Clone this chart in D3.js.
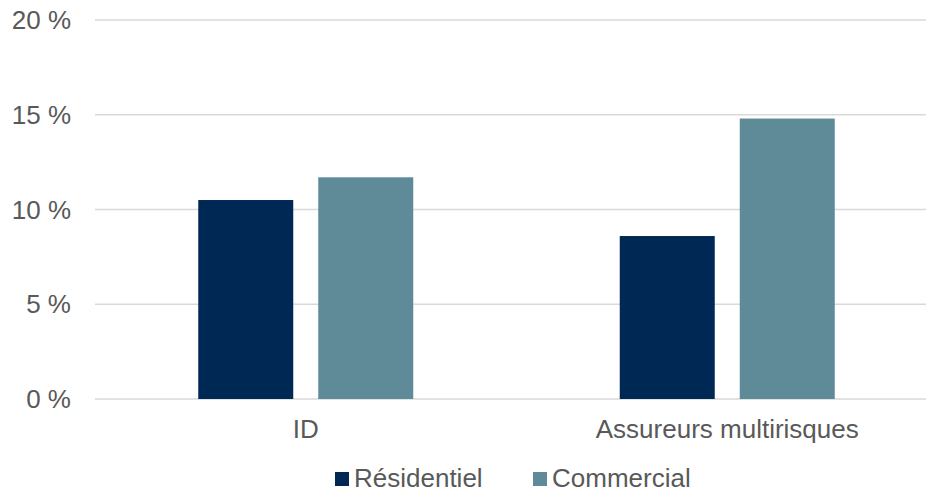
<!DOCTYPE html>
<html>
<head>
<meta charset="utf-8">
<script src="https://cdn.jsdelivr.net/npm/d3@7"></script>
<style>
  body { margin: 0; background: #fff; }
  text { font-family: "Liberation Sans", Arial, sans-serif; fill: #595959; }
</style>
</head>
<body>
<div id="chart"></div>
<script>
(function(){

    const width = 926, height = 492;

    // Data
    const categories = ["ID", "Assureurs multirisques"];
    const seriesNames = ["Résidentiel", "Commercial"];
    const residentiel = [10.5, 8.6];
    const commercial = [11.7, 14.8];
    const yTicks = [0, 5, 10, 15, 20];
    const colors = ["#002855", "#5F8A98"];

    const data = categories.map((c, i) => ({
        cat: c,
        values: [residentiel[i], commercial[i]]
    }));

    let svg = d3.select("#chart")
        .append("svg")
        .attr("width", width)
        .attr("height", height);

    // Scales
    let x = d3.scaleBand()
        .domain(categories)
        .range([95, 938])
        .paddingInner(0)
        .paddingOuter(0);

    let y = d3.scaleLinear()
        .domain([0, 20])
        .range([399, 20]);

    // Gridlines
    svg.append("g")
        .selectAll("line")
        .data(yTicks)
        .enter()
        .append("line")
        .attr("x1", 95)
        .attr("x2", width)
        .attr("y1", d => y(d))
        .attr("y2", d => y(d))
        .style("stroke", "#D9D9D9")
        .style("stroke-width", 1.5);

    // Y tick labels
    svg.append("g")
        .selectAll("text")
        .data(yTicks)
        .enter()
        .append("text")
        .attr("x", 71)
        .attr("y", d => y(d))
        .attr("dy", "0.35em")
        .style("text-anchor", "end")
        .style("font-size", "26px")
        .text(d => d + " %");

    // Bars: 95px wide, 25px gap inside a group
    const barW = 95, gap = 25;
    let groups = svg.selectAll(".grp")
        .data(data)
        .enter()
        .append("g")
        .attr("class", "grp")
        .attr("transform", d => `translate(${x(d.cat) + x.bandwidth() / 2}, 0)`);

    groups.selectAll("rect")
        .data(d => d.values)
        .enter()
        .append("rect")
        .attr("x", (d, i) => i === 0 ? -(barW + gap / 2) : gap / 2)
        .attr("y", d => y(d))
        .attr("width", barW)
        .attr("height", d => y(0) - y(d))
        .style("fill", (d, i) => colors[i]);

    // Category labels
    svg.append("g")
        .selectAll("text")
        .data(categories)
        .enter()
        .append("text")
        .attr("x", d => x(d) + x.bandwidth() / 2)
        .attr("y", 438)
        .style("text-anchor", "middle")
        .style("font-size", "26px")
        .text(d => d);

    // Legend
    const legendX = [335, 533];
    let legend = svg.selectAll(".leg")
        .data(seriesNames)
        .enter()
        .append("g")
        .attr("class", "leg")
        .attr("transform", (d, i) => `translate(${legendX[i]}, 0)`);

    legend.append("rect")
        .attr("x", 0)
        .attr("y", 472)
        .attr("width", 14)
        .attr("height", 14)
        .style("fill", (d, i) => colors[i]);

    legend.append("text")
        .attr("x", 19)
        .attr("y", 487)
        .style("font-size", "26px")
        .text(d => d);

})();
</script>
</body>
</html>
